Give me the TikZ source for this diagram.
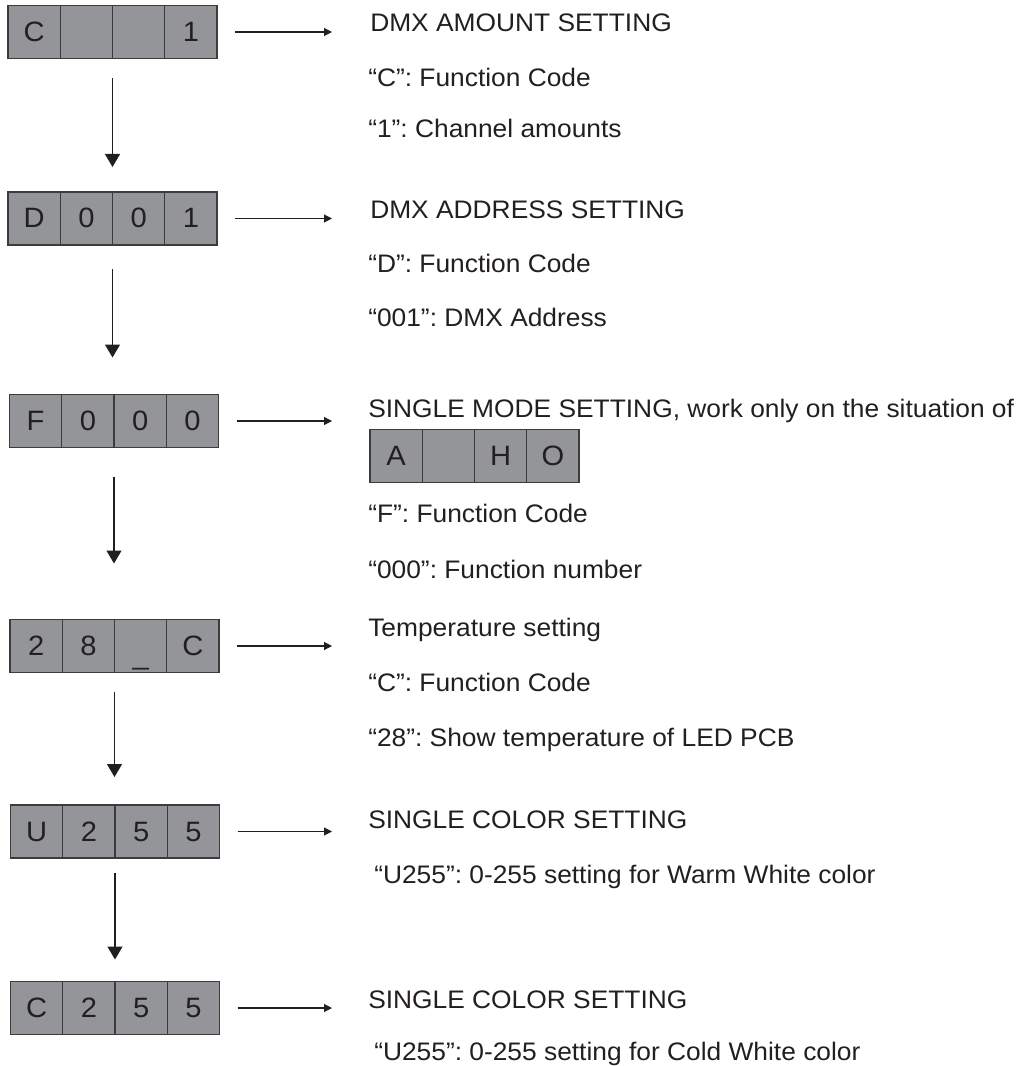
\documentclass[tikz,border=0pt]{standalone}
\usepackage{fontspec}
\setmainfont{Liberation Sans}[FakeStretch=1.04]
\usetikzlibrary{arrows.meta,calc}
\definecolor{lcdfill}{HTML}{939598}
\definecolor{lcdline}{HTML}{3C3C3C}
\definecolor{ink}{HTML}{231F20}
\frenchspacing
\tikzset{
  lcdbox/.style={draw=lcdline, fill=lcdfill, line width=0.9pt, minimum width=156.75pt,
    minimum height=39.75pt, inner sep=0pt, outer sep=0pt, anchor=center},
  lcddiv/.style={draw=lcdline, line width=0.9pt},
  lcdchar/.style={anchor=base, inner sep=0pt, text=ink, font=\fontsize{21pt}{23pt}\selectfont},
  txt/.style={anchor=base west, inner sep=0pt, text=ink, font=\fontsize{19pt}{21pt}\selectfont},
  varrow/.style={draw=ink, line width=1pt, -{Triangle[length=9.75pt,width=11.25pt]}},
  harrow/.style={draw=ink, line width=0.8pt, -{Triangle[length=6pt,width=6pt]},
    shorten <=13.5pt, shorten >=27pt},
}
\newcommand\lcdrow[6]{%
  \node[lcdbox] (#1) at #2 {};
  \foreach \k in {1,2,3}{\draw[lcddiv] ($(#1.north west)+(\k*52.25,0)$) -- ($(#1.south west)+(\k*52.25,0)$);}
  \node[lcdchar] (#1-1) at ($(#1.center)+(-78.375,9.5)$) {#3};
  \node[lcdchar] (#1-2) at ($(#1.center)+(-26.125,9.5)$) {#4};
  \node[lcdchar] (#1-3) at ($(#1.center)+(26.125,9.5)$) {#5};
  \node[lcdchar] (#1-4) at ($(#1.center)+(78.375,9.5)$) {#6};
}
\newcommand\lowbar{\raisebox{-7pt}{\_}}
\begin{document}
\begin{tikzpicture}[x=0.75pt,y=-0.75pt]
\useasboundingbox (0,0) rectangle (1025,1066);
\coordinate (tx) at (368,0);

% LCD rows
\lcdrow{b1}{(112.5,32)}{C}{}{}{1}
\lcdrow{b2}{(112.5,218.5)}{D}{0}{0}{1}
\lcdrow{b3}{(114,421)}{F}{0}{0}{0}
\lcdrow{b4}{(114.5,646)}{2}{8}{\lowbar}{C}
\lcdrow{b5}{(115,831.5)}{U}{2}{5}{5}
\lcdrow{b6}{(115,1008)}{C}{2}{5}{5}
\lcdrow{aho}{(474.5,456)}{A}{}{H}{O}

% texts
\node[txt] (t1)  at (370,31.5)  {DMX AMOUNT SETTING};
\node[txt] (t1a) at (368,86.5)  {“C”: Function Code};
\node[txt] (t1b) at (368,137.5) {“1”: Channel amounts};
\node[txt] (t2)  at (370,218.5) {DMX ADDRESS SETTING};
\node[txt] (t2a) at (368,272.5) {“D”: Function Code};
\node[txt] (t2b) at (368,326.5) {“001”: DMX Address};
\node[txt] (t3)  at (368,417)   {SINGLE MODE SETTING, work only on the situation of};
\node[txt] (t3a) at (368,522.5) {“F”: Function Code};
\node[txt] (t3b) at (368,578)   {“000”: Function number};
\node[txt] (t4)  at (368,636.5) {Temperature setting};
\node[txt] (t4a) at (368,691.5) {“C”: Function Code};
\node[txt] (t4b) at (368,746.5) {“28”: Show temperature of LED PCB};
\node[txt] (t5)  at (368,828.5) {SINGLE COLOR SETTING};
\node[txt] (t5a) at (374,883.5) {“U255”: 0-255 setting for Warm White color};
\node[txt] (t6)  at (368,1008.5) {SINGLE COLOR SETTING};
\node[txt] (t6a) at (374,1060.5) {“U255”: 0-255 setting for Cold White color};

% horizontal arrows
\foreach \b in {b1,b2,b3,b4,b5,b6}{\draw[harrow] (\b.east) -- (\b.east -| tx);}

% vertical arrows
\draw[varrow, shorten <=15pt, shorten >=18.75pt] (b1.south) -- (b1.south |- b2.north);
\draw[varrow, shorten <=18pt, shorten >=27.75pt] (b2.south) -- (b2.south |- b3.north);
\draw[varrow, shorten <=21.75pt, shorten >=42pt] (b3.south) -- (b3.south |- b4.north);
\draw[varrow, shorten <=14.25pt, shorten >=21pt] (b4.south) -- (b4.south |- b5.north);
\draw[varrow, shorten <=11.25pt, shorten >=16.5pt] (b5.south) -- (b5.south |- b6.north);
\end{tikzpicture}
\end{document}
